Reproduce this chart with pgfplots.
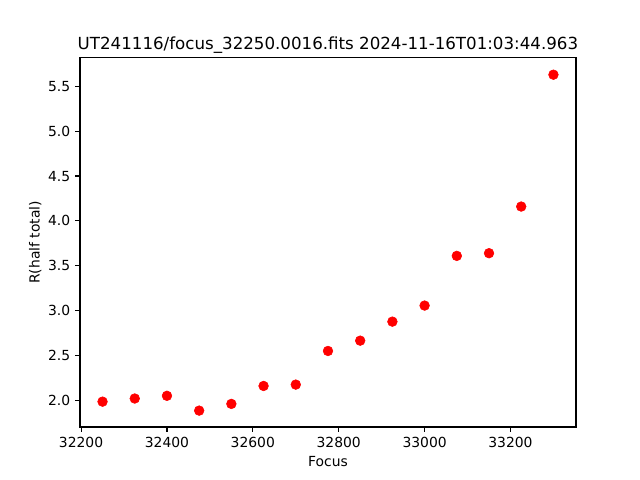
\documentclass[border=0pt]{standalone}
\usepackage{pgfplots}
\pgfplotsset{compat=1.18}
\usepackage{fontspec}
\setmainfont{DejaVu Sans}
\begin{document}
\begin{tikzpicture}
\begin{axis}[
  at={(0,0)}, anchor=south west,
  scale only axis,
  width=357.1pt, height=265.7pt,
  xmin=32197.5, xmax=33352.5,
  ymin=1.703, ymax=5.817,
  xtick={32200,32400,32600,32800,33000,33200},
  ytick={2.0,2.5,3.0,3.5,4.0,4.5,5.0,5.5},
  /pgf/number format/assume math mode=true,
  /pgf/number format/set thousands separator={},
  yticklabel style={/pgf/number format/fixed, /pgf/number format/fixed zerofill, /pgf/number format/precision=1},
  scaled x ticks=false,
  tick align=outside,
  major tick length=3.5pt,
  xtick pos=bottom, ytick pos=left,
  axis line style={line width=0.8pt},
  every tick/.style={black, line width=0.8pt},
  tick label style={font=\fontsize{10}{12}\selectfont},
  label style={font=\fontsize{10}{12}\selectfont},
  xlabel={Focus},
  ylabel={R(half total)},
  ylabel style={xshift=0pt, yshift=-2pt},
  title={UT241116/focus\_32250.0016.fits 2024-11-16T01:03:44.963},
  title style={font=\fontsize{12}{14}\selectfont, at={(0.5,1)}, anchor=south, yshift=-6.5pt},
]
\addplot[only marks, mark=*, mark size=3.5pt, color=red, mark options={fill=red, draw=red}] coordinates {
(32250,1.985) (32325,2.02) (32400,2.05) (32475,1.885) (32550,1.96)
(32625,2.16) (32700,2.175) (32775,2.55) (32850,2.665) (32925,2.877)
(33000,3.056) (33075,3.61) (33150,3.64) (33225,4.16) (33300,5.63)
};
\end{axis}
\path[use as bounding box] (-57.6pt,-38.2pt) rectangle (403.2pt,307.4pt);
\end{tikzpicture}
\end{document}
